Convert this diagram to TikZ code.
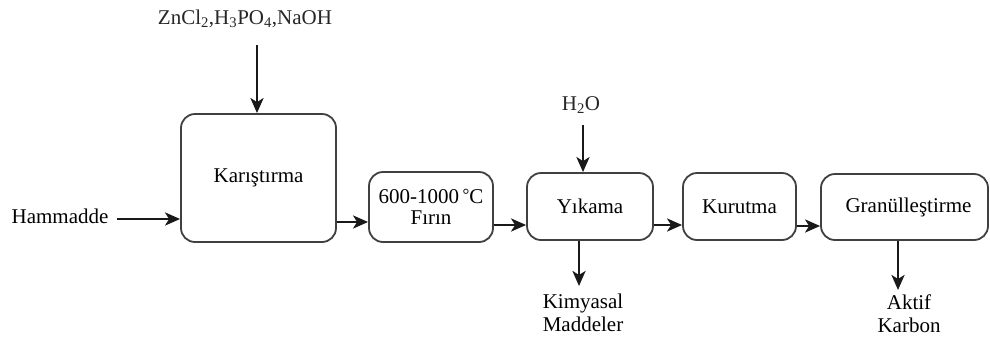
\documentclass[tikz,border=0pt]{standalone}
\usepackage{fontspec}
\setmainfont{Liberation Serif}
\usetikzlibrary{arrows.meta}
\begin{document}
\begin{tikzpicture}[x=1pt,y=-1pt,
  proc/.style={draw=black!75, line width=1.8pt, rounded corners=14pt, fill=white, inner sep=0pt, align=center},
  arr/.style={draw=black!90, line width=2.8pt, -{Stealth[length=15pt,width=13pt,inset=4pt]}},
  lbl/.style={inner sep=0pt, align=center, font=\fontsize{21}{23}\selectfont},
  font=\fontsize{21}{23}\selectfont]
\useasboundingbox (0,0) rectangle (990,338);
% boxes
\node[proc, minimum width=155pt, minimum height=128pt] (kar) at (258.5,178) {\raisebox{-2pt}{Karıştırma}};
\node[proc, minimum width=124pt, minimum height=70pt] (fir) at (431,207) {600-1000\,\raisebox{3pt}{\fontsize{17}{19}\selectfont°}C\\[-2pt]Fırın};
\node[proc, minimum width=126pt, minimum height=67pt] (yik) at (590,206.5) {Yıkama};
\node[proc, minimum width=113pt, minimum height=67pt] (kur) at (739.5,206.5) {Kurutma};
\node[proc, minimum width=167pt, minimum height=66pt] (gra) at (904.5,207) {\hspace*{8pt}Granülleştirme};
% labels
\node[lbl, text=black!85] (chem) at (245,19) {ZnCl\textsubscript{2},H\textsubscript{3}PO\textsubscript{4},NaOH};
\node[lbl] (ham) at (60,216) {Hammadde};
\node[lbl, text=black!85] (h2o) at (581,105) {H\textsubscript{2}O};
\node[lbl] (kim) at (583,313) {Kimyasal\\Maddeler};
\node[lbl] (akt) at (909,314) {Aktif\\Karbon};
% free ends
\coordinate (c1) at (257,45);
\coordinate (c2) at (117,219);
\coordinate (c3) at (583,125);
\coordinate (c4) at (579,286);
\coordinate (c5) at (898,290);
% connectors
\draw[arr] (c1) -- (c1 |- kar.north);
\draw[arr] (c2) -- (kar.west |- c2);
\draw[arr] (kar.east |- 0,222) -- (fir.west |- 0,222);
\draw[arr] (fir.east |- 0,225) -- (yik.west |- 0,225);
\draw[arr] (c3) -- (c3 |- yik.north);
\draw[arr] (c4 |- yik.south) -- (c4);
\draw[arr] (yik.east |- 0,225) -- (kur.west |- 0,225);
\draw[arr] (kur.east |- 0,226) -- (gra.west |- 0,226);
\draw[arr] (c5 |- gra.south) -- (c5);
\end{tikzpicture}
\end{document}
